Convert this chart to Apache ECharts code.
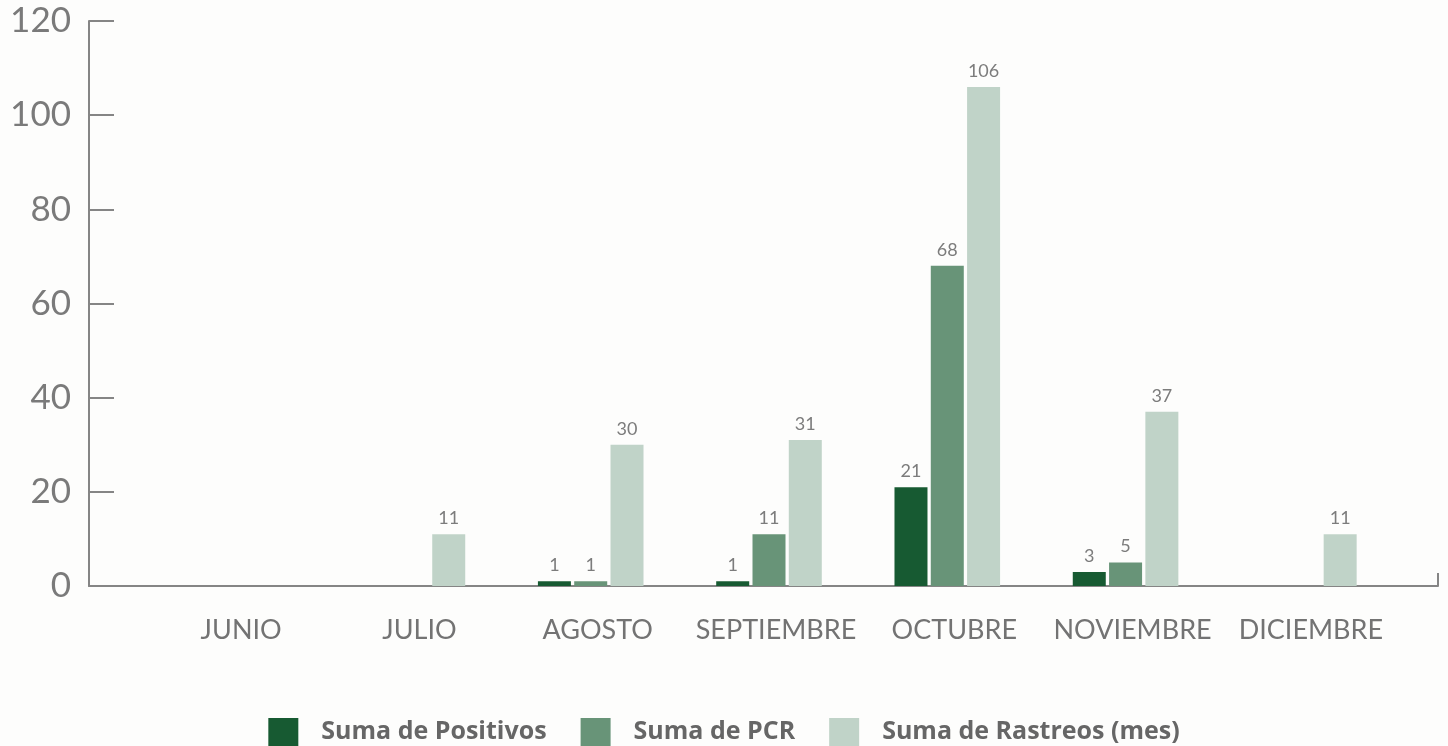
<!DOCTYPE html>
<html><head><meta charset="utf-8">
<script src="https://cdn.jsdelivr.net/npm/echarts@6/dist/echarts.min.js"></script>
<style>html,body{margin:0;padding:0;background:#fdfdfc;}#c{width:1448px;height:746px;}</style>
</head><body><div id="c"></div>
<script>
const categories = ['JUNIO','JULIO','AGOSTO','SEPTIEMBRE','OCTUBRE','NOVIEMBRE','DICIEMBRE'];
const positivos = [null, null, 1, 1, 21, 3, null];
const pcr = [null, null, 1, 11, 68, 5, null];
const rastreos = [null, 11, 30, 31, 106, 37, 11];
const seriesNames = ['Suma de Positivos','Suma de PCR','Suma de Rastreos (mes)'];
const colors = ['#175a32','#689478','#c0d3c8'];

const chart = echarts.init(document.getElementById('c'));
const axisColor = '#858585';
const font = 'Lato';
const lbl = {show:true, position:'top', distance:7, fontSize:18, color:'#7c7c7c', fontFamily:font};
function bar(name, data, color){
  return {name, type:'bar', xAxisIndex:1, yAxisIndex:1, data, barWidth:33, barGap:'10%',
    itemStyle:{color}, label:lbl};
}
chart.setOption({
  animation:false,
  backgroundColor:'#fdfdfc',
  color: colors,
  grid:[
    {left:89, right:10, top:21, bottom:160},
    {left:145, right:55, top:21, bottom:160}
  ],
  xAxis:[
    {gridIndex:0, type:'value', min:0, max:1, interval:1, splitLine:{show:false},
      axisLabel:{show:false}, axisLine:{lineStyle:{color:axisColor, width:2}},
      axisTick:{inside:true, length:13, lineStyle:{color:axisColor, width:2}}},
    {gridIndex:1, type:'category', data:categories,
      axisLine:{show:false}, axisTick:{show:false},
      axisLabel:{fontSize:27, color:'#737373', fontFamily:font, margin:31, padding:[0,0,0,14], interval:0}}
  ],
  yAxis:[
    {gridIndex:0, type:'value', min:0, max:120, interval:20, splitLine:{show:false},
      axisLine:{show:true, lineStyle:{color:axisColor, width:2}},
      axisTick:{show:true, inside:true, length:25, lineStyle:{color:axisColor, width:2}},
      axisLabel:{fontSize:35, color:'#7a7a7a', fontFamily:font, margin:18}},
    {gridIndex:1, type:'value', min:0, max:120, interval:20, show:false}
  ],
  legend:{top:713, left:'center', icon:'rect', itemWidth:30, itemHeight:28, itemGap:34,
    textStyle:{fontSize:25, fontWeight:'bold', color:'#666', fontFamily:'Open Sans', padding:[0,0,0,18]},
    data:seriesNames},
  series:[
    bar(seriesNames[0], positivos, colors[0]),
    bar(seriesNames[1], pcr, colors[1]),
    bar(seriesNames[2], rastreos, colors[2])
  ]
});
</script></body></html>
